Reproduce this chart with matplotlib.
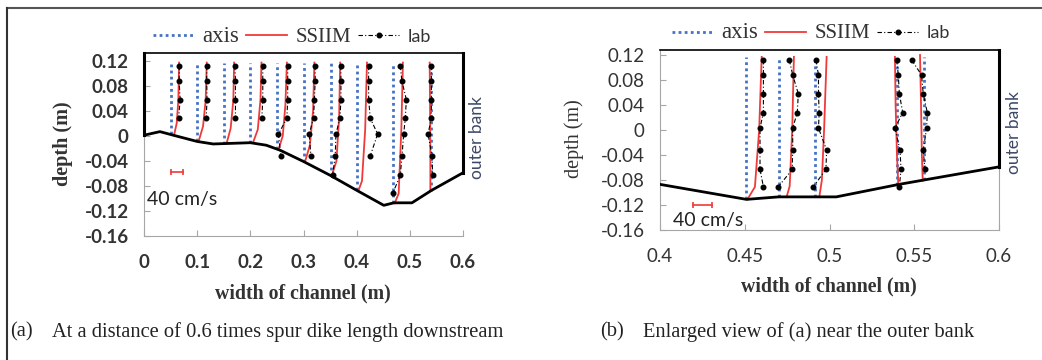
import numpy as np
import matplotlib
matplotlib.use('Agg')
from matplotlib import pyplot as plt
from matplotlib.lines import Line2D

# depths of the lab measuring points (m), top to bottom
LAB_DEPTH = [0.112, 0.088, 0.058, 0.028, 0.003, -0.032, -0.063, -0.091]

# channel bed
BED_X = [0.0, 0.03, 0.055, 0.10, 0.13, 0.20, 0.23, 0.256, 0.30, 0.35, 0.40, 0.451, 0.47, 0.504, 0.541, 0.60]
BED_Y = [0.001, 0.0067, 0.001, -0.009, -0.013, -0.011, -0.015, -0.023, -0.041, -0.063, -0.087, -0.111, -0.107, -0.107, -0.087, -0.059]
TOP_Y = 0.117

# (a) whole section
A_AXIS_X = [0.050, 0.100, 0.151, 0.200, 0.250, 0.301, 0.351, 0.400, 0.469, 0.539]
A_SSIIM_X = [[0.0565, 0.0615, 0.0646, 0.066],
             [0.103, 0.111, 0.116, 0.118],
             [0.156, 0.163, 0.168, 0.1695],
             [0.205, 0.214, 0.219, 0.221],
             [0.253, 0.261, 0.266, 0.2687],
             [0.303, 0.312, 0.318, 0.3205],
             [0.3535, 0.362, 0.367, 0.369],
             [0.4036, 0.41, 0.416, 0.4194],
             [0.4714, 0.479, 0.484, 0.487],
             [0.5386, 0.5386, 0.5380, 0.5373]]
A_SSIIM_Y = [[0.001, 0.02, 0.057, 0.117],
             [-0.008, 0.015, 0.057, 0.117],
             [-0.010, 0.012, 0.057, 0.117],
             [-0.011, 0.010, 0.057, 0.117],
             [-0.022, 0.0, 0.050, 0.117],
             [-0.041, -0.015, 0.040, 0.117],
             [-0.063, -0.040, 0.030, 0.117],
             [-0.087, -0.072, 0.010, 0.117],
             [-0.108, -0.092, 0.010, 0.117],
             [-0.087, -0.030, 0.050, 0.117]]
A_LAB_X = [[0.0665, 0.066, 0.068, 0.065],
           [0.118, 0.118, 0.1185, 0.117],
           [0.171, 0.172, 0.172, 0.172],
           [0.2234, 0.2234, 0.2234, 0.2216],
           [0.2703, 0.2703, 0.2703, 0.2687, 0.2529, 0.2573],
           [0.322, 0.322, 0.3205, 0.3189, 0.3107, 0.3139],
           [0.3704, 0.3704, 0.3704, 0.3685, 0.361, 0.3597, 0.3547],
           [0.4225, 0.4225, 0.4225, 0.4256, 0.4394, 0.4256],
           [0.482, 0.485, 0.4934, 0.4915, 0.4884, 0.4853, 0.482, 0.4683],
           [0.5405, 0.5405, 0.5405, 0.5405, 0.5342, 0.5417, 0.543]]
A_XTICKS = [0, 0.1, 0.2, 0.3, 0.4, 0.5, 0.6]
A_XLABELS = ['0', '0.1', '0.2', '0.3', '0.4', '0.5', '0.6']

# (b) near the outer bank
B_AXIS_X = [0.4506, 0.4705, 0.4912, 0.540, 0.5557]
B_SSIIM_X = [[0.4516, 0.456, 0.4585, 0.460],
             [0.4747, 0.4765, 0.478, 0.479],
             [0.494, 0.4955, 0.4968, 0.4983],
             [0.5406, 0.5398, 0.539, 0.5386],
             [0.555, 0.5545, 0.554, 0.5534]]
B_SSIIM_Y = [[-0.111, -0.091, 0.0, 0.117],
             [-0.107, -0.090, 0.0, 0.117],
             [-0.107, -0.080, 0.0, 0.117],
             [-0.088, -0.040, 0.04, 0.117],
             [-0.081, -0.040, 0.04, 0.120]]
B_LAB_X = [[0.461, 0.461, 0.461, 0.461, 0.459, 0.459, 0.459, 0.461],
           [0.4763, 0.4783, 0.4816, 0.481, 0.4783, 0.4783, 0.4780, 0.4698],
           [0.492, 0.4935, 0.4935, 0.4939, 0.4935, 0.4983, 0.4979, 0.4904],
           [0.5396, 0.5406, 0.5412, 0.5432, 0.5386, 0.5416, 0.5422, 0.5412],
           [0.5485, 0.5543, 0.5553, 0.5577, 0.5573, 0.5553, 0.5563]]
B_XTICKS = [0.4, 0.45, 0.5, 0.55, 0.6]
B_XLABELS = ['0.4', '0.45', '0.5', '0.55', '0.6']

YTICKS = [-0.16, -0.12, -0.08, -0.04, 0, 0.04, 0.08, 0.12]
YLABELS = ['-0.16', '-0.12', '-0.08', '-0.04', '0', '0.04', '0.08', '0.12']

BLUE = '#4472c4'
RED = '#f03a3a'
GRAY = '#a6a6a6'
TXT = '#333333'
SERIF = 'Liberation Serif'
SANS = 'Lato'
LAB_LS = (0, (4, 2, 1, 2))


def draw_panel(ax, axis_x, ssiim_x, ssiim_y, lab_x, xlim, ylim, xticks, xlabels,
               bar_x, bar_y, scale_xy, tick_weight, label_weight):
    bx = np.array(BED_X)
    by = np.array(BED_Y)
    for x in axis_x:
        bottom = np.interp(x, bx, by)
        ax.plot([x, x], [bottom, TOP_Y], color=BLUE, lw=2, ls=(0, (1, 1.2)), zorder=2)
    for xs, ys in zip(ssiim_x, ssiim_y):
        ax.plot(xs, ys, color=RED, lw=1.3, zorder=3)
    for xs in lab_x:
        ax.plot(xs, LAB_DEPTH[:len(xs)], color='black', lw=0.8, ls=LAB_LS,
                marker='o', ms=3.3, zorder=4)
    ax.plot(bx, by, color='black', lw=2, zorder=5)
    # banks
    ax.plot([0.6, 0.6], [BED_Y[-1], ylim[1]], color='black', lw=2.2, zorder=5, clip_on=False)
    if xlim[0] == 0:
        ax.plot([0, 0], [BED_Y[0], ylim[1]], color='black', lw=2.2, zorder=5, clip_on=False)

    # 40 cm/s scale
    ax.plot(bar_x, [bar_y, bar_y], color=RED, lw=1.2, marker='|', ms=5, mew=1.2)
    ax.text(scale_xy[0], scale_xy[1], '40 cm/s', family=SANS, fontsize=14,
            color='#222222', ha='left', va='center')

    ax.set_xlim(xlim)
    ax.set_ylim(ylim)
    ax.set_xticks(xticks)
    ax.set_xticklabels(xlabels)
    ax.set_yticks(YTICKS)
    ax.set_yticklabels(YLABELS)
    ax.tick_params(direction='in', length=4, color=GRAY, labelcolor=TXT, labelsize=13.5)
    ax.tick_params(axis='y', pad=11)
    ax.tick_params(axis='x', pad=13)
    for lab in ax.get_xticklabels() + ax.get_yticklabels():
        lab.set_family(SANS)
        lab.set_weight(tick_weight)
    ax.spines['left'].set_color(GRAY)
    ax.spines['bottom'].set_color(GRAY)
    ax.spines['right'].set_visible(False)
    ax.spines['top'].set_color('black')
    ax.spines['top'].set_linewidth(1.2)

    ax.text(0.497, -0.315, 'width of channel (m)', transform=ax.transAxes, family=SERIF,
            fontsize=14.3, weight='bold', color=TXT, ha='center', va='center')
    ax.text(-0.253, 0.505, 'depth (m)', transform=ax.transAxes, family=SERIF,
            fontsize=14.5, weight=label_weight, color=TXT, ha='center', va='center',
            rotation=90)
    ax.text(1.043, 0.54, 'outer bank', transform=ax.transAxes, family=SANS,
            fontsize=12.5, color='#3d4868', ha='center', va='center', rotation=90)


def add_legend(fig, x, y):
    handles = [Line2D([], [], color=BLUE, lw=2, ls=(0, (1, 1.2))),
               Line2D([], [], color=RED, lw=1.3),
               Line2D([], [], color='black', lw=0.8, ls=LAB_LS, marker='o', ms=3.3)]
    leg = fig.legend(handles, ['axis', 'SSIIM', 'lab'], loc='center left',
                     bbox_to_anchor=(x, y), ncol=3, frameon=False, fontsize=14,
                     handlelength=2.1, handletextpad=0.45, columnspacing=0.35,
                     borderpad=0, borderaxespad=0, numpoints=1)
    t = leg.get_texts()
    t[0].set_family(SERIF)
    t[0].set_fontsize(16.5)
    t[1].set_family(SERIF)
    t[1].set_fontsize(15)
    t[2].set_family(SANS)
    t[2].set_fontsize(13)
    for tx in t:
        tx.set_color(TXT)


fig = plt.figure(figsize=(10.42, 3.6), dpi=100)

ax_a = fig.add_axes([144 / 1042, 1 - 236 / 360, 319 / 1042, 183 / 360])
draw_panel(ax_a, A_AXIS_X, A_SSIIM_X, A_SSIIM_Y, A_LAB_X, (0, 0.6), (-0.16, 0.1323),
           A_XTICKS, A_XLABELS, [0.0508, 0.0729], -0.058, (0.006, -0.101), 'bold', 'bold')

ax_b = fig.add_axes([660 / 1042, 1 - 230 / 360, 339 / 1042, 180 / 360])
draw_panel(ax_b, B_AXIS_X, B_SSIIM_X, B_SSIIM_Y, B_LAB_X, (0.4, 0.6), (-0.16, 0.128),
           B_XTICKS, B_XLABELS, [0.4197, 0.4305], -0.12, (0.4075, -0.145), 'normal', 'normal')
ax_b.spines['right'].set_visible(True)
ax_b.spines['right'].set_color(GRAY)

add_legend(fig, 153 / 1042, 1 - 36 / 360)
add_legend(fig, 672 / 1042, 1 - 33 / 360)

# captions
cap = dict(family=SERIF, fontsize=14.8, color='#222222', va='center')
fig.text(10 / 1042, 1 - 332 / 360, '(a)', **cap)
fig.text(52 / 1042, 1 - 332 / 360, 'At a distance of 0.6 times spur dike length downstream', **cap)
fig.text(600 / 1042, 1 - 332 / 360, '(b)', **cap)
fig.text(643 / 1042, 1 - 332 / 360, 'Enlarged view of (a) near the outer bank', **cap)

# frame lines
fig.add_artist(Line2D([7 / 1042, 1], [1 - 8 / 360, 1 - 8 / 360], color='#555555', lw=1.5))
fig.add_artist(Line2D([7 / 1042, 7 / 1042], [0, 1 - 8 / 360], color='#333333', lw=1.5))

fig.savefig('out.png', dpi=100)
